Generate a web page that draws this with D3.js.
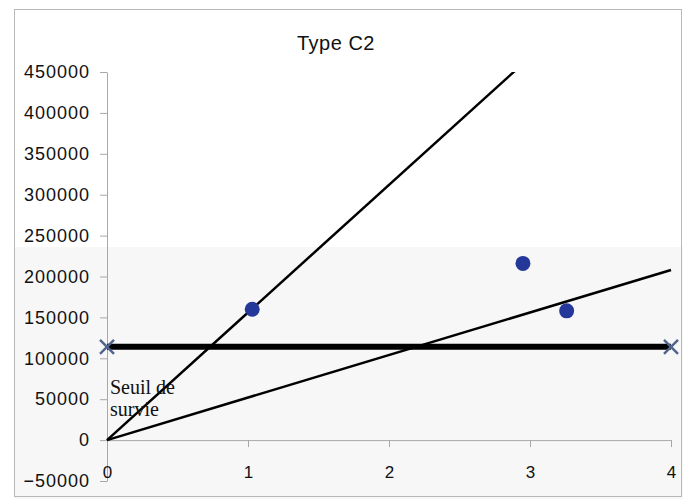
<!DOCTYPE html>
<html>
<head>
<meta charset="utf-8">
<script src="https://cdn.jsdelivr.net/npm/d3@7"></script>
<style>
  body { margin: 0; background: #fff; }
  svg { display: block; }
  .axis text { font-family: "Liberation Sans", Arial, sans-serif; fill: #111; }
  .axis path, .axis line { stroke: #a8a8a8; }
</style>
</head>
<body>
<div id="chart"></div>
<script>
'use strict';

// chart values
var xTicks = [0, 1, 2, 3, 4];
var yTicks = [-50000, 0, 50000, 100000, 150000, 200000, 250000, 300000, 350000, 400000, 450000];
var lineX = [0, 4];
var steepY = [0, 624000];
var shallowY = [0, 208000];
var seuilY = [114000, 114000];
var pointsX = [1.03, 2.95, 3.26];
var pointsY = [160000, 216000, 158000];
var seuilLabel = ['Seuil de', 'survie'];

var width = 683, height = 499;

var svg = d3.select('#chart').append('svg')
  .attr('width', width)
  .attr('height', height);

// chart area, with the lighter grey band of the scan
svg.append('rect')
  .attr('x', 0).attr('y', 0).attr('width', width).attr('height', height)
  .attr('fill', '#fff');
svg.append('rect')
  .attr('x', 14).attr('y', 247).attr('width', width - 14).attr('height', height - 247)
  .attr('fill', '#f7f7f7');
svg.append('rect')
  .attr('x', 14.5).attr('y', 9.5).attr('width', 667).attr('height', 487)
  .attr('fill', 'none')
  .attr('stroke', '#b8b8b8');

// scales
var xScale = d3.scaleLinear().domain([0, 4]).range([107, 671]);
var yScale = d3.scaleLinear().domain([-50000, 450000]).range([481, 72]);

// title
svg.append('text')
  .attr('x', 336)
  .attr('y', 50)
  .attr('text-anchor', 'middle')
  .style('font-family', '"Liberation Sans", Arial, sans-serif')
  .style('font-size', '20px')
  .style('letter-spacing', '0.5px')
  .attr('fill', '#111')
  .text('Type C2');

// y axis
var yAxis = d3.axisLeft(yScale)
  .tickValues(yTicks)
  .tickFormat(d3.format('d'))
  .tickSize(7)
  .tickPadding(10)
  .tickSizeOuter(0);
svg.append('g')
  .attr('class', 'axis y-axis')
  .attr('transform', 'translate(' + xScale(0) + ',0)')
  .call(yAxis)
  .selectAll('text')
  .style('font-size', '18px')
  .style('letter-spacing', '1px');

// x axis sits on the zero line
var xAxis = d3.axisBottom(xScale)
  .tickValues(xTicks)
  .tickFormat(d3.format('d'))
  .tickSize(7)
  .tickPadding(19)
  .tickSizeOuter(0);
svg.append('g')
  .attr('class', 'axis x-axis')
  .attr('transform', 'translate(0,' + yScale(0) + ')')
  .call(xAxis)
  .selectAll('text')
  .style('font-size', '17px');

// plot clip so the steep line stops at the top of the plot
svg.append('clipPath').attr('id', 'plot-clip')
  .append('rect')
  .attr('x', xScale(0) - 10).attr('y', yScale(450000))
  .attr('width', xScale(4) - xScale(0) + 20)
  .attr('height', yScale(-50000) - yScale(450000));

var line = d3.line()
  .x(function(d) { return xScale(d[0]); })
  .y(function(d) { return yScale(d[1]); });

var plot = svg.append('g').attr('clip-path', 'url(#plot-clip)');

// survival threshold
plot.append('path')
  .datum(d3.zip(lineX, seuilY))
  .attr('d', line)
  .attr('fill', 'none')
  .attr('stroke', '#000')
  .attr('stroke-width', 6);

// the two lines through the origin
[steepY, shallowY].forEach(function(ys) {
  plot.append('path')
    .datum(d3.zip(lineX, ys))
    .attr('d', line)
    .attr('fill', 'none')
    .attr('stroke', '#000')
    .attr('stroke-width', 2.5);
});

// x markers at the ends of the threshold (stroke symbol)
var cross = d3.symbol().type(d3.symbolTimes).size(130);
svg.append('g').selectAll('path')
  .data(d3.zip(lineX, seuilY))
  .enter()
  .append('path')
  .attr('d', cross)
  .attr('transform', function(d) { return 'translate(' + xScale(d[0]) + ',' + yScale(d[1]) + ')'; })
  .attr('fill', 'none')
  .attr('stroke', '#51648c')
  .attr('stroke-width', 2.5);

// data points
svg.append('g').selectAll('circle')
  .data(d3.zip(pointsX, pointsY))
  .enter()
  .append('circle')
  .attr('r', 7.5)
  .attr('cx', function(d) { return xScale(d[0]); })
  .attr('cy', function(d) { return yScale(d[1]); })
  .attr('fill', '#24389a');

// text box label
svg.append('g').selectAll('text')
  .data(seuilLabel)
  .enter()
  .append('text')
  .attr('x', 110)
  .attr('y', function(d, i) { return 394 + i * 22; })
  .style('font-family', '"Liberation Serif", "Times New Roman", serif')
  .style('font-size', '20px')
  .attr('fill', '#111')
  .text(function(d) { return d; });
</script>
</body>
</html>
